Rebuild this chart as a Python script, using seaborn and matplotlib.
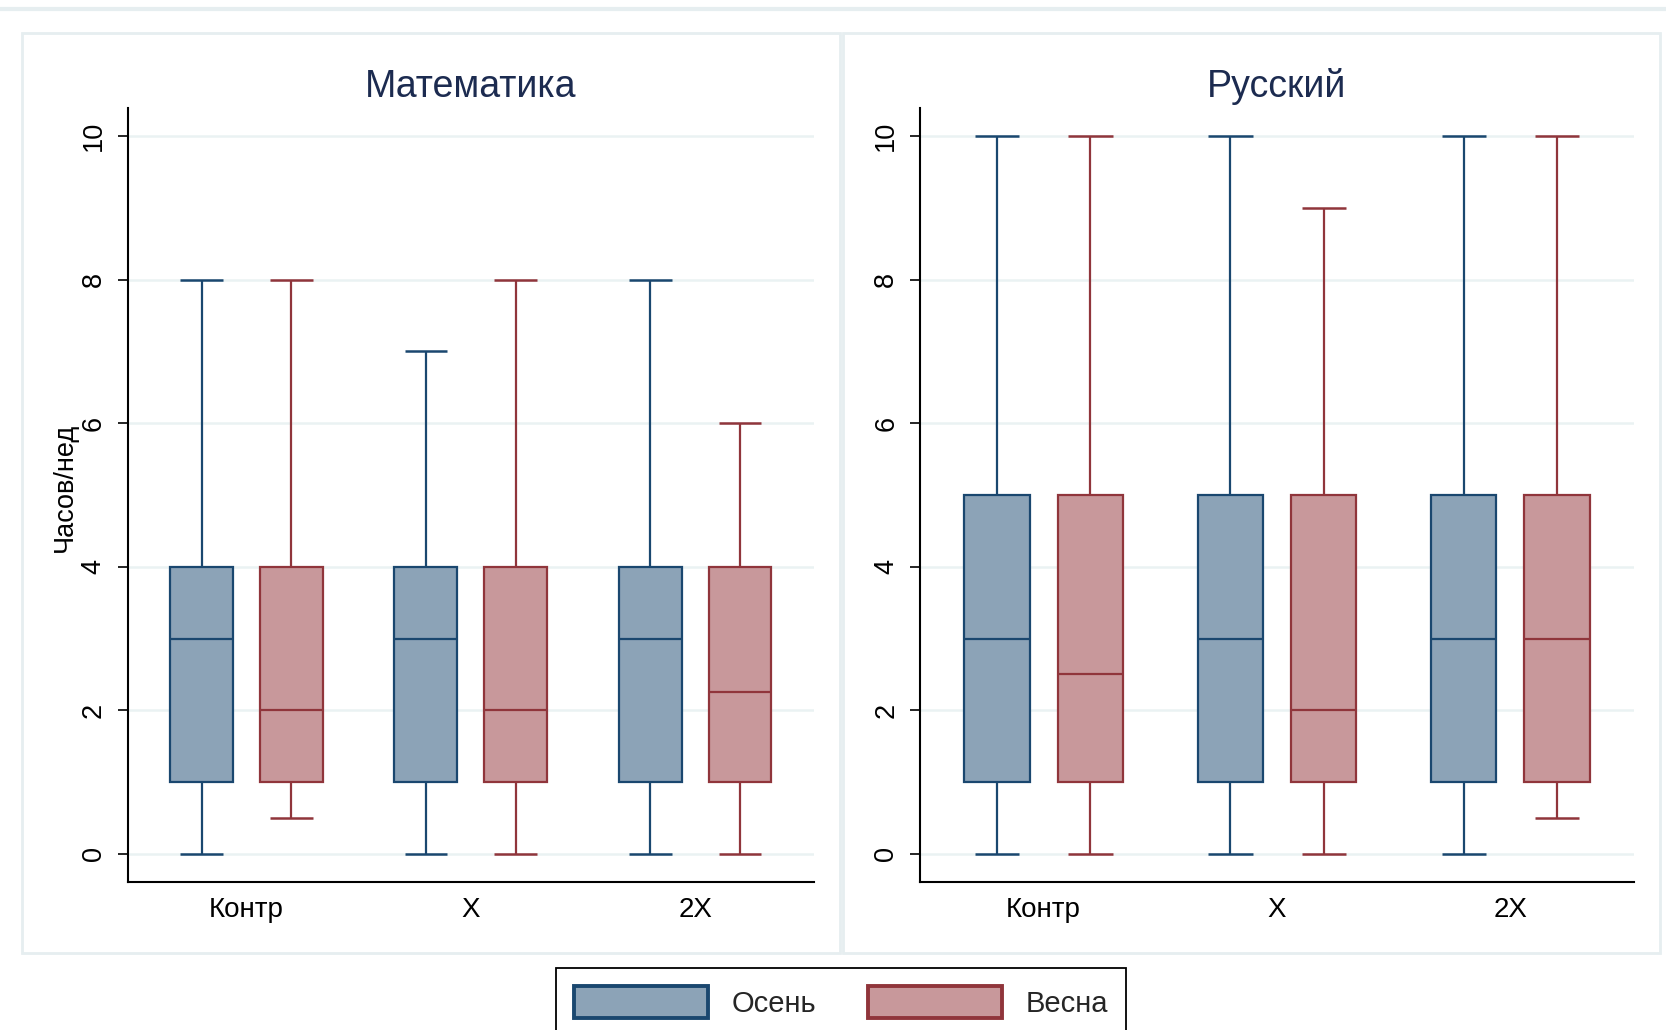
import numpy as np
import pandas as pd
import matplotlib
matplotlib.use("Agg")
import matplotlib.pyplot as plt
import seaborn as sns
from matplotlib.patches import Patch, Rectangle
from matplotlib.lines import Line2D

# ---------------- data (five-number summaries: min, q1, median, q3, max) ----
groups = ["Контр", "X", "2X"]
seasons = ["Осень", "Весна"]
subjects = ["Математика", "Русский"]

math_autumn = [[0, 1, 3, 4, 8], [0, 1, 3, 4, 7], [0, 1, 3, 4, 8]]
math_spring = [[0.5, 1, 2, 4, 8], [0, 1, 2, 4, 8], [0, 1, 2.25, 4, 6]]
rus_autumn = [[0, 1, 3, 5, 10], [0, 1, 3, 5, 10], [0, 1, 3, 5, 10]]
rus_spring = [[0, 1, 2.5, 5, 10], [0, 1, 2, 5, 9], [0.5, 1, 3, 5, 10]]

y_ticks = [0, 2, 4, 6, 8, 10]
y_label = "Часов/нед"

summaries = {
    ("Математика", "Осень"): math_autumn,
    ("Математика", "Весна"): math_spring,
    ("Русский", "Осень"): rus_autumn,
    ("Русский", "Весна"): rus_spring,
}

rows = []
for (subj, seas), lists in summaries.items():
    for g, vals in zip(groups, lists):
        for v in vals:
            rows.append({"subject": subj, "season": seas, "group": g, "value": v})
df = pd.DataFrame(rows)

# ---------------- style ----------------
sns.set_style("white")
plt.rcParams["font.family"] = ["Liberation Sans", "DejaVu Sans"]

fills = {"Осень": "#8CA3B7", "Весна": "#C8989B"}
edges = {"Осень": "#1A476F", "Весна": "#90353B"}
grid_c = "#EAF2F3"
frame_c = "#E6EEF0"

W, H = 1666, 1030
fig = plt.figure(figsize=(W / 100, H / 100), dpi=100)
fig.patch.set_facecolor("white")


def rect(x0, x1, y0, y1):
    return [x0 / W, 1 - y1 / H, (x1 - x0) / W, (y1 - y0) / H]


# decorations (panel frames and top strip)
fig.add_artist(Line2D([0, 1], [1 - 8.5 / H] * 2, transform=fig.transFigure,
                      color=frame_c, lw=3))
for x0, x1 in [(22, 840), (843, 1660)]:
    fig.add_artist(Rectangle((x0 / W, 1 - 953 / H), (x1 - x0) / W, (953 - 33) / H,
                             transform=fig.transFigure, fill=False,
                             ec=frame_c, lw=2))

axes = [fig.add_axes(rect(127.5, 814, 108, 882)),
        fig.add_axes(rect(920, 1634, 108, 882))]
title_x = [471, 1277]

for ax, subj, tx in zip(axes, subjects, title_x):
    for seas in seasons:
        sub = df[(df["subject"] == subj) & (df["season"] == seas)]
        sns.boxplot(data=sub, x="group", y="value", hue="season",
                    order=groups, hue_order=seasons, whis=(0, 100),
                    width=0.8, gap=0.3, dodge=True, palette=fills,
                    saturation=1, linecolor=edges[seas], linewidth=1.6,
                    legend=False, ax=ax)
    # widen whisker caps like Stata
    for ln in ax.lines:
        xd = np.asarray(ln.get_xdata(), float)
        yd = np.asarray(ln.get_ydata(), float)
        if len(xd) == 2 and yd[0] == yd[1] and abs(xd[1] - xd[0]) < 0.2:
            c = xd.mean()
            ln.set_xdata([c - 0.095, c + 0.095])
            ln.set_solid_capstyle("butt")
            ln.set_linewidth(1.8)

    ax.set_xlim(-0.53, 2.53)
    ax.set_ylim(-0.39, 10.39)
    ax.set_yticks(y_ticks)
    ax.yaxis.grid(True, color=grid_c, lw=1.8)
    ax.xaxis.grid(False)
    ax.set_axisbelow(True)
    for s in ["top", "right"]:
        ax.spines[s].set_visible(False)
    for s in ["left", "bottom"]:
        ax.spines[s].set_color("black")
        ax.spines[s].set_linewidth(1.5)
    ax.tick_params(axis="y", left=True, length=7, width=1.2, color="black",
                   labelsize=19.5, labelrotation=90, pad=8, labelcolor="black")
    for t in ax.get_yticklabels():
        t.set_va("center")
    ax.tick_params(axis="x", length=0, labelsize=20, pad=11, labelcolor="black")
    ax.set_xlabel("")
    ax.set_ylabel("")
    fig.text(tx / W, 1 - 97 / H, subj, ha="center", va="baseline",
             fontsize=27, color="#1C2B50")

axes[0].set_ylabel(y_label, fontsize=19.5, color="black")
axes[0].yaxis.set_label_coords((78 - 127.5) / (814 - 127.5), (882 - 487) / 774)

handles = [Patch(facecolor=fills[s], edgecolor=edges[s], lw=2.8, label=s)
           for s in seasons]
leg = fig.legend(handles=handles, loc="upper center",
                 bbox_to_anchor=(841 / W, 1 - 968 / H), ncol=2, frameon=True,
                 fancybox=False, edgecolor="black", fontsize=21,
                 handlelength=4.6, handleheight=1.3, handletextpad=0.8,
                 columnspacing=1.8, borderpad=0.62, borderaxespad=0)
leg.get_frame().set_linewidth(1.3)
leg.get_frame().set_alpha(1)

fig.savefig("out.png", dpi=100)
